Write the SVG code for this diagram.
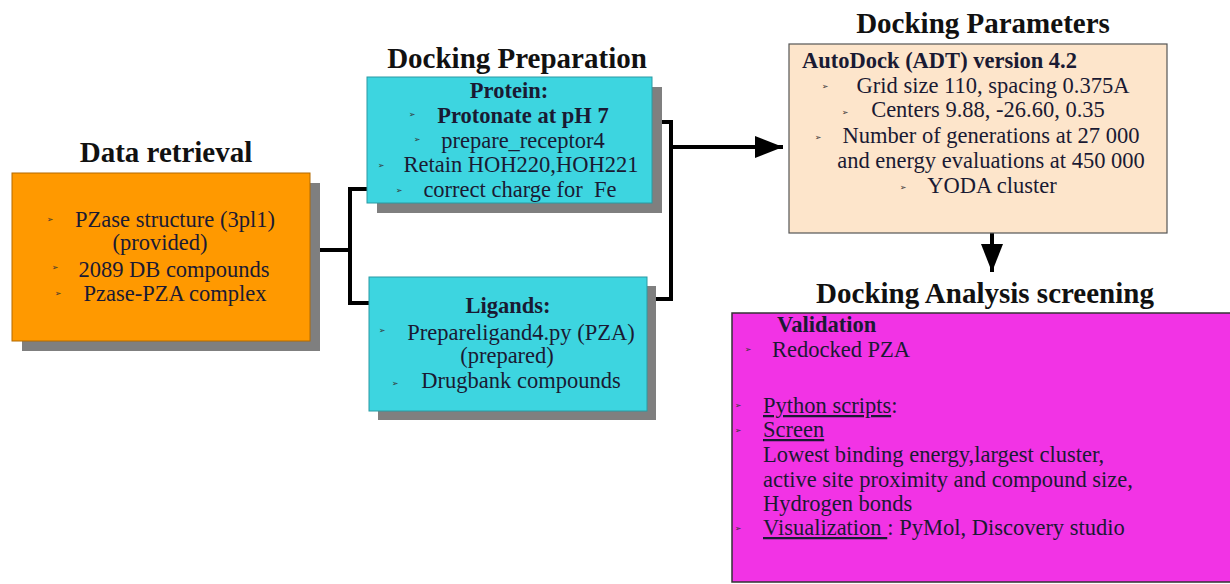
<svg xmlns="http://www.w3.org/2000/svg" width="1230" height="584" viewBox="0 0 1230 584">
<style>
.title{font-family:"Liberation Serif",serif;font-weight:bold;font-size:29px;fill:#111;text-anchor:middle}
.t{font-family:"Liberation Serif",serif;font-size:22.5px;fill:#1a1a33}
.c{text-anchor:middle}
.b{font-weight:bold}
.bul{font-family:"DejaVu Sans",sans-serif;font-size:8px;fill:#333;text-anchor:middle}
.shadow{fill:#7f7f7f}
.conn{fill:none;stroke:#000;stroke-width:4}
.u{text-decoration:underline}
</style>
<defs>
<marker id="ah" markerUnits="userSpaceOnUse" markerWidth="30" markerHeight="22" refX="28" refY="11" orient="auto">
<path d="M0,0 L28,11 L0,22 Z" fill="#000"/>
</marker>
</defs>
<g id="connectors">
<polyline class="conn" points="320,250 350,250"/>
<polyline class="conn" points="367,189 350,189 350,303 369,303"/>
<polyline class="conn" points="660,122 671,122 671,299 655,299"/>
<line class="conn" x1="671" y1="147" x2="783" y2="147" marker-end="url(#ah)"/>
<line class="conn" x1="992" y1="233" x2="992" y2="272" marker-end="url(#ah)"/>
</g>
<g id="data-retrieval">
<text class="title" x="166" y="162">Data retrieval</text>
<rect class="shadow" x="22" y="183" width="298" height="168"/>
<rect x="12" y="173" width="298" height="168" fill="#ff9900" stroke="#b36b00" stroke-width="1"/>
<text class="bul" x="50" y="222">➢</text>
<text class="t c" x="175" y="227">PZase structure (3pl1)</text>
<text class="t c" x="160" y="250">(provided)</text>
<text class="bul" x="55" y="270">➢</text>
<text class="t c" x="174" y="277">2089 DB compounds</text>
<text class="bul" x="58" y="296">➢</text>
<text class="t c" x="175" y="301">Pzase-PZA complex</text>
</g>
<g id="docking-preparation-protein">
<text class="title" x="517" y="68">Docking Preparation</text>
<rect class="shadow" x="377" y="87" width="285" height="126"/>
<rect x="367" y="77" width="285" height="126" fill="#3dd5e0" stroke="#2a9aa3" stroke-width="1"/>
<text class="t c b" x="509" y="98">Protein:</text>
<text class="bul" x="412" y="117">➢</text>
<text class="t c b" x="523" y="123">Protonate at pH 7</text>
<text class="bul" x="417" y="142">➢</text>
<text class="t c" x="523" y="148">prepare_receptor4</text>
<text class="bul" x="381" y="168">➢</text>
<text class="t c" x="521" y="172">Retain HOH220,HOH221</text>
<text class="bul" x="399" y="193">➢</text>
<text class="t c" x="520" y="197" xml:space="preserve">correct charge for  Fe</text>
</g>
<g id="docking-preparation-ligands">
<rect class="shadow" x="378" y="286" width="278" height="134"/>
<rect x="369" y="277" width="278" height="134" fill="#3dd5e0" stroke="#2a9aa3" stroke-width="1"/>
<text class="t c b" x="508" y="313">Ligands:</text>
<text class="bul" x="382" y="333">➢</text>
<text class="t c" x="521" y="340">Prepareligand4.py (PZA)</text>
<text class="t c" x="507" y="363">(prepared)</text>
<text class="bul" x="395" y="386">➢</text>
<text class="t c" x="521" y="388">Drugbank compounds</text>
</g>
<g id="docking-parameters">
<text class="title" x="983" y="33">Docking Parameters</text>
<rect x="789" y="44" width="378" height="189" fill="#fde5cb" stroke="#555" stroke-width="1.2"/>
<text class="t b" x="802" y="68">AutoDock (ADT) version 4.2</text>
<text class="bul" x="825" y="89">➢</text>
<text class="t c" x="993" y="93">Grid size 110, spacing 0.375A</text>
<text class="bul" x="845" y="115">➢</text>
<text class="t c" x="988" y="117">Centers 9.88, -26.60, 0.35</text>
<text class="bul" x="818" y="140">➢</text>
<text class="t c" x="991" y="143">Number of generations at 27 000</text>
<text class="t c" x="991" y="168">and energy evaluations at 450 000</text>
<text class="bul" x="903" y="190">➢</text>
<text class="t c" x="992" y="193">YODA cluster</text>
</g>
<g id="docking-analysis">
<text class="title" x="985" y="303">Docking Analysis screening</text>
<rect x="732" y="313" width="504" height="269" fill="#f233e5" stroke="#333" stroke-width="1.5"/>
<text class="t b" x="777" y="332">Validation</text>
<text class="bul" x="748" y="352">➢</text>
<text class="t" x="772" y="357">Redocked PZA</text>
<text class="bul" x="738" y="408">➢</text>
<text class="t" x="763" y="413"><tspan class="u">Python scripts</tspan>:</text>
<text class="bul" x="738" y="433">➢</text>
<text class="t u" x="763" y="437">Screen</text>
<text class="t" x="763" y="462">Lowest binding energy,largest cluster,</text>
<text class="t" x="763" y="487">active site proximity and compound size,</text>
<text class="t" x="763" y="511">Hydrogen bonds</text>
<text class="bul" x="738" y="531">➢</text>
<text class="t" x="763" y="535" xml:space="preserve"><tspan class="u">Visualization </tspan>: PyMol, Discovery studio</text>
</g>
</svg>
